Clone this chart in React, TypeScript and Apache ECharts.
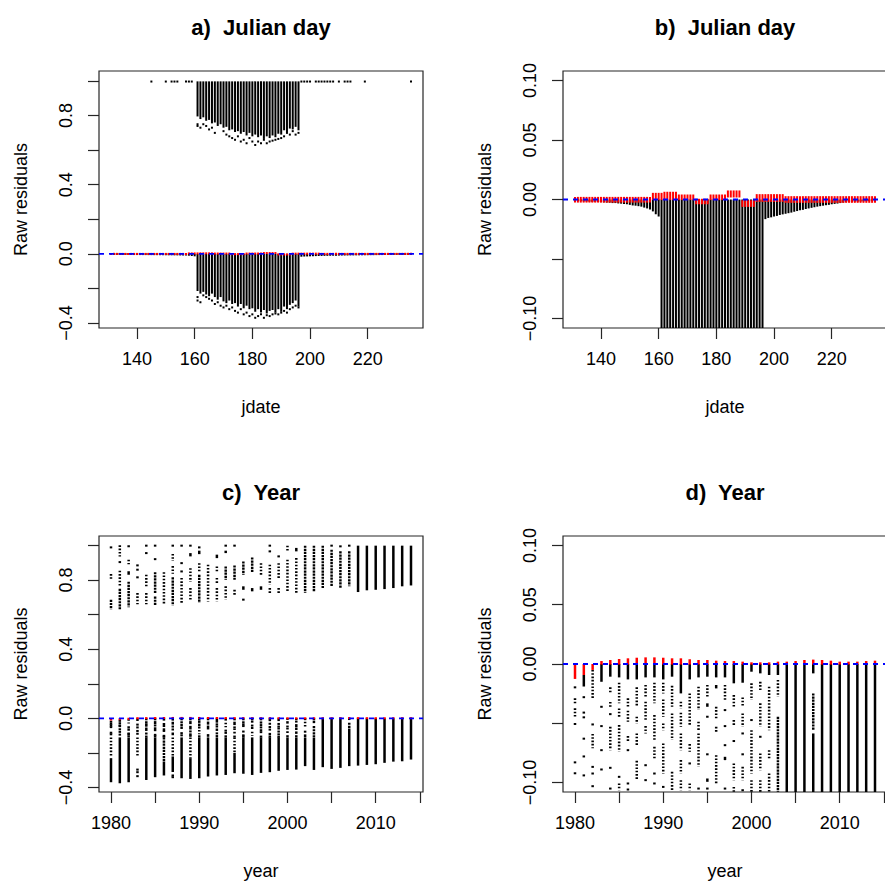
import React, { useEffect, useRef } from "react";
import * as echarts from "echarts";

const FONT = "'Liberation Sans', Arial, Helvetica, sans-serif";
const INK = "#000000";
const FRAME = "#262626";

// ---------- texts ----------
const panelTitles = ["a)  Julian day", "b)  Julian day", "c)  Year", "d)  Year"];
const xNames = ["jdate", "jdate", "year", "year"];
const yName = "Raw residuals";

// ---------- ticks ----------
const jdTicks = [140, 160, 180, 200, 220];
const yearTicks = [1980, 1985, 1990, 1995, 2000, 2005, 2010, 2015];
const yearLabels = [1980, 1990, 2000, 2010];
const fullTicks = [-0.4, -0.2, 0, 0.2, 0.4, 0.6, 0.8, 1.0];
const fullLabels = [-0.4, 0, 0.4, 0.8];
const zoomTicks = [-0.1, -0.05, 0, 0.05, 0.1];
const zoomLabels = [-0.1, 0, 0.05, 0.1];

// ---------- axis ranges ----------
const jdRange = [126.84, 239.16];
const yearRange = [1978.64, 2015.36];
const fullRangeTop = [-0.429, 1.058];
const fullRangeBottom = [-0.4255, 1.0538];
const zoomRange = [-0.108, 0.108];

// ---------- Julian day data ----------
// lowest residual of the near-zero columns (days outside the dense season)
const jdNearLo = [
  [131, -0.001], [132, -0.001], [133, -0.0012], [134, -0.0015], [135, -0.0017], [136, -0.0018],
  [137, -0.002], [138, -0.002], [139, -0.0021], [140, -0.0022], [141, -0.0024], [142, -0.0026],
  [143, -0.0027], [144, -0.003], [145, -0.003], [146, -0.0033], [147, -0.0035], [148, -0.0038],
  [149, -0.004], [150, -0.0045], [151, -0.005], [152, -0.0052], [153, -0.0056], [154, -0.006],
  [155, -0.0068], [156, -0.0075], [157, -0.0085], [158, -0.01], [159, -0.0124], [160, -0.0143],
  [197, -0.0165], [198, -0.0155], [199, -0.015], [200, -0.0143], [201, -0.0138], [202, -0.013],
  [203, -0.0125], [204, -0.012], [205, -0.0115], [206, -0.011], [207, -0.0103], [208, -0.0097],
  [209, -0.009], [210, -0.0087], [211, -0.008], [212, -0.0075], [213, -0.007], [214, -0.0065],
  [215, -0.006], [216, -0.0056], [217, -0.0052], [218, -0.0048], [219, -0.0045], [220, -0.004],
  [221, -0.0037], [222, -0.0034], [223, -0.003], [224, -0.0026], [225, -0.0022], [226, -0.002],
  [227, -0.002], [228, -0.0018], [229, -0.0018], [230, -0.0017], [231, -0.0015], [232, -0.0013],
  [233, -0.0012], [234, -0.0011], [235, -0.001],
];
const jdDenseDays = [161, 162, 163, 164, 165, 166, 167, 168, 169, 170, 171, 172, 173, 174, 175, 176, 177, 178,
  179, 180, 181, 182, 183, 184, 185, 186, 187, 188, 189, 190, 191, 192, 193, 194, 195, 196];
const jdLowerLo = [-0.215, -0.23, -0.22, -0.235, -0.245, -0.23, -0.25, -0.265, -0.25, -0.275, -0.285, -0.27,
  -0.29, -0.285, -0.305, -0.29, -0.315, -0.3, -0.32, -0.315, -0.335, -0.32, -0.34, -0.325, -0.345, -0.33,
  -0.325, -0.34, -0.32, -0.335, -0.305, -0.32, -0.295, -0.285, -0.27, -0.305];
const jdUpperLo = [0.795, 0.78, 0.79, 0.77, 0.775, 0.755, 0.76, 0.74, 0.75, 0.73, 0.735, 0.715, 0.72, 0.705,
  0.71, 0.695, 0.705, 0.685, 0.7, 0.68, 0.69, 0.675, 0.685, 0.665, 0.68, 0.67, 0.685, 0.675, 0.695, 0.69, 0.715,
  0.705, 0.725, 0.72, 0.735, 0.715];
const jdLowerDots = [
  [161, -0.25], [161, -0.27], [162, -0.28], [163, -0.24], [164, -0.25], [165, -0.26], [166, -0.27],
  [167, -0.29], [168, -0.28], [169, -0.3], [170, -0.31], [171, -0.3], [172, -0.32], [173, -0.31],
  [174, -0.33], [175, -0.34], [176, -0.32], [177, -0.35], [178, -0.34], [179, -0.36], [180, -0.35],
  [181, -0.37], [182, -0.36], [183, -0.35], [184, -0.37], [185, -0.355], [186, -0.36], [187, -0.35],
  [188, -0.345], [189, -0.35], [190, -0.34], [191, -0.33], [192, -0.34], [193, -0.32], [194, -0.31],
  [195, -0.3], [196, -0.31],
];
const jdUpperDots = [
  [161, 0.75], [161, 0.74], [162, 0.73], [163, 0.75], [164, 0.74], [165, 0.72], [166, 0.73], [167, 0.7],
  [170, 0.71], [171, 0.69], [172, 0.68], [173, 0.67], [174, 0.66], [175, 0.68], [176, 0.65], [177, 0.66],
  [178, 0.64], [179, 0.67], [180, 0.65], [181, 0.63], [182, 0.65], [183, 0.64], [184, 0.66], [185, 0.64],
  [186, 0.65], [187, 0.655], [188, 0.66], [189, 0.665], [190, 0.67], [191, 0.68], [192, 0.7], [193, 0.69],
  [194, 0.71], [195, 0.69], [196, 0.7],
];
const jdUpperSingles = [145, 150, 152, 153, 154, 157, 158, 159, 197, 198, 199, 200, 202, 203, 204, 205, 206,
  207, 208, 210, 212, 213, 214, 219, 235];
// red points: [first day, last day, highest, lowest]
const jdRedGroups = [
  [131, 157, 0.0022, -0.0026],
  [158, 161, 0.0056, -0.0005],
  [162, 166, 0.0065, -0.0005],
  [167, 172, 0.0042, -0.0005],
  [173, 177, 0.0006, -0.004],
  [178, 183, 0.0042, -0.0005],
  [184, 188, 0.0076, 0.0017],
  [189, 193, -0.0006, -0.0062],
  [194, 203, 0.0045, -0.002],
  [204, 235, 0.0028, -0.0028],
];

// ---------- Year data: [year, low, high, style 1=solid 0=sparse dots 2=dense dots] ----------
const yearUpper = [
  [1980, 0.988, 0.988, 1], [1980, 0.807, 0.834, 0], [1980, 0.631, 0.685, 2],
  [1981, 0.936, 1.0, 0], [1981, 0.903, 0.903, 1], [1981, 0.76, 0.853, 0], [1981, 0.63, 0.749, 2],
  [1982, 0.994, 0.994, 1], [1982, 0.891, 0.917, 0], [1982, 0.83, 0.85, 0], [1982, 0.642, 0.79, 2],
  [1983, 0.884, 0.884, 1], [1983, 0.859, 0.859, 1], [1983, 0.815, 0.815, 1], [1983, 0.66, 0.724, 0],
  [1984, 0.998, 0.998, 1], [1984, 0.955, 0.955, 1], [1984, 0.76, 0.83, 0], [1984, 0.66, 0.724, 0],
  [1985, 0.998, 0.998, 1], [1985, 0.92, 0.92, 1], [1985, 0.72, 0.845, 2], [1985, 0.652, 0.704, 2],
  [1986, 0.662, 0.845, 0],
  [1987, 0.998, 0.998, 1], [1987, 0.91, 0.95, 0], [1987, 0.835, 0.88, 0], [1987, 0.652, 0.815, 2],
  [1988, 0.998, 0.998, 1], [1988, 0.897, 0.897, 1], [1988, 0.849, 0.849, 1], [1988, 0.666, 0.811, 0],
  [1989, 0.998, 0.998, 1], [1989, 0.936, 0.955, 0], [1989, 0.79, 0.868, 0], [1989, 0.685, 0.753, 0],
  [1990, 0.988, 0.988, 1], [1990, 0.949, 0.969, 0], [1990, 0.849, 0.897, 0], [1990, 0.666, 0.83, 2],
  [1991, 0.676, 0.888, 0],
  [1992, 0.926, 0.946, 0], [1992, 0.849, 0.878, 0], [1992, 0.782, 0.811, 0], [1992, 0.676, 0.753, 0],
  [1993, 0.998, 0.998, 1], [1993, 0.955, 0.969, 0], [1993, 0.801, 0.878, 2], [1993, 0.686, 0.763, 0],
  [1994, 0.998, 0.998, 1], [1994, 0.801, 0.884, 2], [1994, 0.714, 0.743, 0],
  [1995, 0.83, 0.907, 2], [1995, 0.743, 0.763, 0], [1995, 0.686, 0.686, 1],
  [1996, 0.84, 0.93, 2], [1996, 0.734, 0.753, 0],
  [1997, 0.83, 0.897, 0], [1997, 0.743, 0.763, 0],
  [1998, 0.998, 0.998, 1], [1998, 0.965, 0.965, 1], [1998, 0.772, 0.888, 0], [1998, 0.714, 0.753, 0],
  [1999, 0.936, 0.936, 1], [1999, 0.801, 0.897, 0], [1999, 0.724, 0.753, 0],
  [2000, 0.965, 0.998, 0], [2000, 0.734, 0.917, 0],
  [2001, 0.965, 0.985, 0], [2001, 0.724, 0.926, 0],
  [2002, 0.724, 0.998, 2],
  [2003, 0.734, 0.998, 2],
  [2004, 0.753, 0.998, 2],
  [2005, 0.998, 0.998, 1], [2005, 0.763, 0.975, 2],
  [2006, 0.994, 0.994, 1], [2006, 0.753, 0.965, 2],
  [2007, 0.998, 0.998, 1], [2007, 0.763, 0.965, 2],
  [2008, 0.73, 0.998, 1], [2009, 0.74, 0.998, 1], [2010, 0.743, 0.998, 1], [2011, 0.747, 0.998, 1],
  [2012, 0.753, 0.998, 1], [2013, 0.763, 0.998, 1], [2014, 0.768, 0.998, 1],
];
const yearLower = [
  [1980, -0.0197, -0.0197, 1], [1980, -0.0346, -0.029, 0], [1980, -0.0444, -0.0374, 0], [1980, -0.0506, -0.0506, 1], [1980, -0.083, -0.083, 1], [1980, -0.0922, -0.0922, 1], [1980, -0.225, -0.11, 0], [1980, -0.369, -0.23, 1],
  [1981, -0.019, -0.0093, 1], [1981, -0.028, -0.028, 1], [1981, -0.041, -0.041, 1], [1981, -0.045, -0.045, 1], [1981, -0.063, -0.063, 1], [1981, -0.078, -0.078, 1], [1981, -0.094, -0.094, 1], [1981, -0.375, -0.11, 1],
  [1982, -0.029, -0.005, 0], [1982, -0.051, -0.051, 1], [1982, -0.071, -0.059, 0], [1982, -0.0868, -0.0868, 1], [1982, -0.0924, -0.0924, 1], [1982, -0.1031, -0.1031, 1], [1982, -0.369, -0.11, 1],
  [1983, -0.015, 0, 1], [1983, -0.0361, -0.0361, 1], [1983, -0.0524, -0.0524, 1], [1983, -0.0727, -0.0727, 1], [1983, -0.089, -0.089, 1], [1983, -0.215, -0.11, 0], [1983, -0.296, -0.296, 1], [1983, -0.311, -0.311, 1], [1983, -0.334, -0.334, 1],
  [1984, -0.0107, 0, 1], [1984, -0.025, -0.0197, 0], [1984, -0.0361, -0.032, 0], [1984, -0.0423, -0.0423, 1], [1984, -0.0727, -0.053, 0], [1984, -0.0876, -0.0876, 1], [1984, -0.1051, -0.1051, 1], [1984, -0.356, -0.11, 1],
  [1985, -0.0113, 0, 1], [1985, -0.0332, -0.0158, 0], [1985, -0.0445, -0.0375, 0], [1985, -0.0741, -0.0515, 0], [1985, -0.0952, -0.0952, 1], [1985, -0.1065, -0.1008, 0], [1985, -0.34, -0.11, 1],
  [1986, -0.013, 0, 1], [1986, -0.0361, -0.029, 0], [1986, -0.0487, -0.0394, 0], [1986, -0.0656, -0.0608, 0], [1986, -0.0727, -0.0727, 1], [1986, -0.1008, -0.1008, 1], [1986, -0.1059, -0.1059, 1], [1986, -0.25, -0.11, 2], [1986, -0.33, -0.25, 1],
  [1987, -0.013, 0, 1], [1987, -0.0361, -0.0197, 0], [1987, -0.0501, -0.0445, 0], [1987, -0.0699, -0.0586, 0], [1987, -0.0975, -0.0817, 0], [1987, -0.22, -0.11, 0], [1987, -0.31, -0.22, 1], [1987, -0.33, -0.33, 1], [1987, -0.34, -0.34, 1],
  [1988, -0.0113, 0, 1], [1988, -0.0276, -0.0177, 0], [1988, -0.0473, -0.0318, 0], [1988, -0.0586, -0.0524, 0], [1988, -0.0854, -0.0854, 1], [1988, -0.098, -0.098, 1], [1988, -0.346, -0.11, 1],
  [1989, -0.0113, 0, 1], [1989, -0.0332, -0.0158, 0], [1989, -0.0642, -0.0431, 0], [1989, -0.0811, -0.0699, 0], [1989, -0.0924, -0.0924, 1], [1989, -0.1008, -0.1008, 1], [1989, -0.23, -0.11, 0], [1989, -0.35, -0.23, 1],
  [1990, -0.013, 0, 1], [1990, -0.0248, -0.0158, 0], [1990, -0.0445, -0.0299, 0], [1990, -0.0558, -0.0501, 0], [1990, -0.0924, -0.067, 0], [1990, -0.1037, -0.1037, 1], [1990, -0.346, -0.11, 1],
  [1991, -0.0107, 0, 1], [1991, -0.0361, -0.0184, 0], [1991, -0.0642, -0.0417, 0], [1991, -0.1065, -0.091, 0], [1991, -0.336, -0.11, 1],
  [1992, -0.0248, 0, 1], [1992, -0.0375, -0.0318, 0], [1992, -0.0529, -0.0411, 0], [1992, -0.0727, -0.0586, 0], [1992, -0.0924, -0.0811, 0], [1992, -0.1065, -0.098, 0], [1992, -0.33, -0.11, 1],
  [1993, -0.013, 0, 1], [1993, -0.0515, -0.0248, 0], [1993, -0.0741, -0.0676, 0], [1993, -0.0839, -0.0839, 1], [1993, -0.1065, -0.1008, 0], [1993, -0.327, -0.11, 1],
  [1994, -0.0113, 0, 1], [1994, -0.0389, -0.0192, 0], [1994, -0.0558, -0.0487, 0], [1994, -0.0868, -0.0586, 0], [1994, -0.1051, -0.1051, 1], [1994, -0.2, -0.11, 0], [1994, -0.317, -0.2, 1],
  [1995, -0.0107, 0, 1], [1995, -0.0276, -0.0177, 0], [1995, -0.0361, -0.0332, 0], [1995, -0.0445, -0.0445, 1], [1995, -0.0769, -0.0755, 0], [1995, -0.0994, -0.0966, 0], [1995, -0.1051, -0.1051, 1], [1995, -0.32, -0.11, 1],
  [1996, -0.0113, 0, 1], [1996, -0.0206, -0.0177, 0], [1996, -0.0473, -0.0361, 0], [1996, -0.0586, -0.053, 0], [1996, -0.1008, -0.0769, 0], [1996, -0.327, -0.11, 1],
  [1997, -0.0113, 0, 1], [1997, -0.0304, -0.0177, 0], [1997, -0.0389, -0.0389, 1], [1997, -0.0524, -0.0524, 1], [1997, -0.0685, -0.0685, 1], [1997, -0.0811, -0.0783, 0], [1997, -0.1051, -0.1051, 1], [1997, -0.315, -0.11, 1],
  [1998, -0.0163, 0, 1], [1998, -0.0361, -0.0262, 0], [1998, -0.0529, -0.0473, 0], [1998, -0.065, -0.065, 1], [1998, -0.098, -0.0839, 0], [1998, -0.1079, -0.1037, 0], [1998, -0.311, -0.11, 1],
  [1999, -0.0158, 0, 1], [1999, -0.0361, -0.0282, 0], [1999, -0.0529, -0.0417, 0], [1999, -0.0586, -0.0586, 1], [1999, -0.0762, -0.0762, 1], [1999, -0.098, -0.0868, 0], [1999, -0.1065, -0.1065, 1], [1999, -0.303, -0.11, 1],
  [2000, -0.0065, 0, 1], [2000, -0.0304, -0.0163, 0], [2000, -0.0473, -0.0473, 1], [2000, -0.0924, -0.0558, 0], [2000, -0.1079, -0.098, 0], [2000, -0.298, -0.11, 1],
  [2001, -0.0079, 0, 1], [2001, -0.022, -0.015, 0], [2001, -0.0529, -0.0332, 0], [2001, -0.0614, -0.0614, 1], [2001, -0.0896, -0.0755, 0], [2001, -0.1079, -0.098, 0], [2001, -0.296, -0.11, 1],
  [2002, -0.0093, 0, 1], [2002, -0.0558, -0.0192, 0], [2002, -0.0811, -0.0727, 0], [2002, -0.1079, -0.0924, 0], [2002, -0.276, -0.11, 1],
  [2003, -0.0093, 0, 1], [2003, -0.0276, -0.0135, 0], [2003, -0.1079, -0.0445, 2], [2003, -0.298, -0.11, 1],
  [2004, -0.282, 0, 1],
  [2005, -0.292, 0, 1],
  [2006, -0.286, 0, 1],
  [2007, -0.0079, 0, 1], [2007, -0.0558, -0.0248, 2], [2007, -0.276, -0.0586, 1],
  [2008, -0.273, 0, 1], [2009, -0.269, 0, 1], [2010, -0.265, 0, 1], [2011, -0.257, 0, 1],
  [2012, -0.25, 0, 1], [2013, -0.248, 0, 1], [2014, -0.238, 0, 1],
];
// red points per year: [year, lowest, highest]
const yearRed = [
  [1980, -0.0126, 0], [1981, -0.0093, 0], [1982, -0.005, 0], [1983, -0.0005, 0.0025], [1984, -0.0005, 0.0034],
  [1985, -0.0005, 0.0042], [1986, -0.0005, 0.0048], [1987, -0.0005, 0.0053], [1988, -0.0005, 0.0056],
  [1989, -0.0005, 0.0056], [1990, -0.0005, 0.0053], [1991, -0.0005, 0.0048], [1992, -0.0005, 0.0048],
  [1993, -0.0005, 0.004], [1994, -0.0005, 0.0034], [1995, -0.0005, 0.0034], [1996, -0.0005, 0.0028],
  [1997, -0.0005, 0.0025], [1998, -0.0005, 0.0025], [1999, -0.0005, 0.002], [2000, -0.0005, 0.0014],
  [2001, -0.0005, 0.0014], [2002, -0.0005, 0.0014], [2003, -0.0005, 0.002], [2004, -0.0005, 0.002],
  [2005, -0.0005, 0.0025], [2006, -0.0005, 0.0034], [2007, -0.0005, 0.0037], [2008, -0.0005, 0.0034],
  [2009, -0.0005, 0.0028], [2010, -0.0005, 0.002], [2011, -0.0005, 0.002], [2012, -0.0005, 0.002],
  [2013, -0.0005, 0.0025], [2014, -0.0005, 0.0028],
];

// ---------- build series data from the arrays ----------
function buildJdBlack() {
  const out: number[][] = [];
  jdNearLo.forEach(([d, lo]) => out.push([d, lo, 0, 1]));
  jdDenseDays.forEach((d, i) => {
    out.push([d, jdLowerLo[i], 0, 1]);
    out.push([d, jdUpperLo[i], 0.998, 1]);
  });
  jdLowerDots.forEach(([d, v]) => out.push([d, v, v, 1]));
  jdUpperDots.forEach(([d, v]) => out.push([d, v, v, 1]));
  jdUpperSingles.forEach((d) => out.push([d, 0.997, 0.997, 1]));
  return out;
}
function buildJdRed() {
  const out: number[][] = [];
  jdRedGroups.forEach(([a, b, hi, lo]) => {
    for (let d = a; d <= b; d++) out.push([d, lo, hi, 1]);
  });
  return out;
}
const yearBlack = [...yearUpper, ...yearLower];
const yearRedData = yearRed.map(([y, lo, hi]) => [y, lo, hi, 1]);

function columnRenderer(color: string, w: number, minH: number) {
  return (params: any, api: any) => {
    const x = api.value(0);
    const lo = api.value(1);
    const hi = api.value(2);
    const s = api.value(3);
    const cs = params.coordSys;
    const pLo = api.coord([x, lo]);
    const pHi = api.coord([x, hi]);
    let yTop = Math.min(pHi[1], pLo[1]);
    let yBot = Math.max(pHi[1], pLo[1]);
    if (yBot - yTop < minH) {
      const m = (yTop + yBot) / 2;
      yTop = m - minH / 2;
      yBot = m + minH / 2;
    }
    const top = Math.max(yTop, cs.y);
    const bot = Math.min(yBot, cs.y + cs.height);
    if (bot <= top) return null;
    const cx = pLo[0];
    if (s === 1 || bot - top < 4) {
      return { type: "rect", shape: { x: cx - w / 2, y: top, width: w, height: bot - top }, style: { fill: color } };
    }
    const dash = s === 2 ? [2.2, 0.9] : [1.6, 1.7];
    return {
      type: "line",
      shape: { x1: cx, y1: top, x2: cx, y2: bot },
      style: { stroke: color, lineWidth: w, lineDash: dash },
    };
  };
}

function fmt(dp: number) {
  return (v: number) => (v < -1e-9 ? "\u2212" : "") + Math.abs(v).toFixed(dp);
}

function buildOption() {
  const gridRects = [
    { left: 99, top: 71, width: 324, height: 257 },
    { left: 563, top: 71, width: 324, height: 257 },
    { left: 99, top: 536, width: 324, height: 256 },
    { left: 563, top: 536, width: 324, height: 256 },
  ];
  const grid = gridRects.map((g) => ({
    ...g,
    show: true,
    borderColor: FRAME,
    borderWidth: 1.2,
    backgroundColor: "transparent",
    containLabel: false,
    outerBoundsMode: "none",
  }));
  const xRanges = [jdRange, jdRange, yearRange, yearRange];
  const xTickSets = [jdTicks, jdTicks, yearTicks, yearTicks];
  const xLabelSets = [jdTicks, jdTicks, yearLabels, yearLabels];
  const yRanges = [fullRangeTop, zoomRange, fullRangeBottom, zoomRange];
  const yTickSets = [fullTicks, zoomTicks, fullTicks, zoomTicks];
  const yLabelSets = [fullLabels, zoomLabels, fullLabels, zoomLabels];
  const yDp = [1, 2, 1, 2];
  const textStyle = { fontSize: 18, color: INK, fontFamily: FONT };

  const xAxis = [0, 1, 2, 3].map((i) => ({
    type: "value",
    gridIndex: i,
    min: xRanges[i][0],
    max: xRanges[i][1],
    position: "bottom",
    axisLine: { show: false, onZero: false },
    axisTick: { show: true, length: 11, lineStyle: { color: FRAME, width: 1.2 }, customValues: xTickSets[i] },
    axisLabel: { show: true, customValues: xLabelSets[i], margin: 22, formatter: (v: number) => String(v), ...textStyle },
    splitLine: { show: false },
    name: xNames[i],
    nameLocation: "middle",
    nameGap: 70,
    nameTextStyle: textStyle,
  }));
  const yAxis = [0, 1, 2, 3].map((i) => ({
    type: "value",
    gridIndex: i,
    min: yRanges[i][0],
    max: yRanges[i][1],
    position: "left",
    axisLine: { show: false, onZero: false },
    axisTick: { show: true, length: 11, lineStyle: { color: FRAME, width: 1.2 }, customValues: yTickSets[i] },
    axisLabel: { show: true, customValues: yLabelSets[i], rotate: 90, margin: 24, formatter: fmt(yDp[i]), ...textStyle },
    splitLine: { show: false },
    name: yName,
    nameLocation: "middle",
    nameGap: 69,
    nameTextStyle: textStyle,
  }));

  const jdBlack = buildJdBlack();
  const jdRed = buildJdRed();
  const series: any[] = [];
  [0, 1, 2, 3].forEach((i) => {
    const isJd = i < 2;
    const w = isJd ? 2 : 2.5;
    series.push({
      type: "custom",
      xAxisIndex: i,
      yAxisIndex: i,
      data: isJd ? jdBlack : yearBlack,
      renderItem: columnRenderer("#000000", w, 2),
      silent: true,
      z: 2,
    });
    series.push({
      type: "custom",
      xAxisIndex: i,
      yAxisIndex: i,
      data: isJd ? jdRed : yearRedData,
      renderItem: columnRenderer("#ff0000", w, 2),
      silent: true,
      z: 3,
    });
    series.push({
      type: "line",
      xAxisIndex: i,
      yAxisIndex: i,
      data: [[xRanges[i][0], 0], [xRanges[i][1], 0]],
      symbol: "none",
      showSymbol: false,
      lineStyle: { color: "#0000ff", width: 1.8, type: [5, 5] },
      silent: true,
      z: 4,
    });
  });

  const titlePos = [[261, 27], [725, 27], [261, 492], [725, 492]];
  const graphic = panelTitles.map((t, i) => ({
    type: "text",
    x: titlePos[i][0],
    y: titlePos[i][1],
    style: {
      text: t,
      align: "center",
      verticalAlign: "middle",
      font: `bold 22px ${FONT}`,
      fill: INK,
    },
    silent: true,
  }));

  return {
    animation: false,
    backgroundColor: "#ffffff",
    grid,
    xAxis,
    yAxis,
    series,
    graphic,
  };
}

export default function App() {
  const ref = useRef<HTMLDivElement>(null);
  useEffect(() => {
    const el = ref.current;
    if (!el) return;
    const chart = echarts.init(el, null, { renderer: "svg" });
    chart.setOption(buildOption() as any);
    return () => chart.dispose();
  }, []);
  return (
    <div
      ref={ref}
      style={{ position: "fixed", left: 0, top: 0, width: 885, height: 884, background: "#ffffff" }}
    />
  );
}
